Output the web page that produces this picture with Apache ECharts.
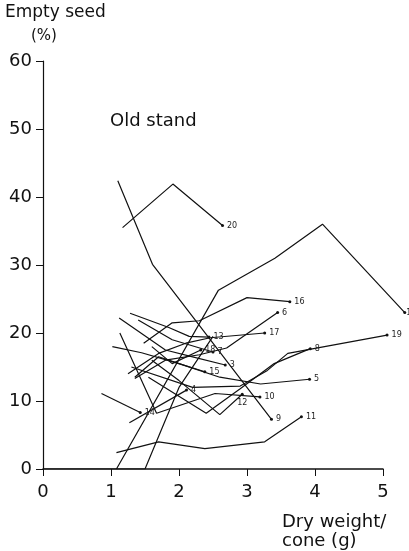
<!DOCTYPE html>
<html lang="en">
<head>
    <meta charset="UTF-8">
    <title>Old stand</title>
    <script src="https://cdn.jsdelivr.net/npm/echarts@6/dist/echarts.min.js"></script>
</head>
<body style="margin:0">
    <div id="main" style="width: 409px;height:551px;"></div>
    <script type="text/javascript">
        // axis ticks
        var xTicks = [0, 1, 2, 3, 4, 5];
        var yTicks = [0, 10, 20, 30, 40, 50, 60];

        // one stand per line: [dry weight per cone (g), empty seed (%)]
        var s1 = [[1.08, 0], [2.58, 26.3], [3.41, 31.0], [4.11, 36.0], [5.32, 23.0]];
        var s2 = [[0, 0], [1.5, 0], [2.0, 12], [2.5, 19.5]];
        var s3 = [[1.12, 22.2], [1.8, 17.5], [2.2, 16.5], [2.68, 15.3]];
        var s4 = [[1.27, 6.8], [2.11, 11.6]];
        var s5 = [[1.02, 18.0], [1.45, 17.1], [2.0, 15.5], [2.6, 13.5], [3.2, 12.5], [3.92, 13.2]];
        var s6 = [[1.35, 13.3], [1.8, 16.0], [2.3, 16.8], [2.7, 17.8], [3.45, 23.0]];
        var s7 = [[1.40, 21.9], [1.9, 19.0], [2.5, 17.2]];
        var s8 = [[1.55, 13.5], [2.4, 8.2], [2.9, 11.8], [3.4, 15.5], [3.93, 17.7]];
        var s9 = [[1.10, 42.4], [1.61, 30.1], [3.36, 7.3]];
        var s10 = [[1.13, 20.0], [1.67, 8.2], [2.53, 11.1], [3.19, 10.6]];
        var s11 = [[1.08, 2.4], [1.70, 4.0], [2.38, 3.0], [3.26, 4.0], [3.80, 7.7]];
        var s12 = [[1.6, 16.0], [2.0, 13.0], [2.6, 8.0], [2.93, 11.0]];
        var s13 = [[1.28, 22.9], [1.85, 20.8], [2.15, 19.5], [2.44, 19.4]];
        var s14 = [[0.86, 11.1], [1.43, 8.3]];
        var s15 = [[1.35, 13.5], [1.7, 16.5], [2.0, 15.5], [2.38, 14.3]];
        var s16 = [[1.48, 18.5], [1.9, 21.5], [2.3, 21.8], [3.0, 25.2], [3.63, 24.6]];
        var s17 = [[1.25, 14.0], [1.7, 17.0], [2.1, 18.5], [2.46, 19.3], [3.26, 20.0]];
        var s18 = [[1.6, 18.0], [1.9, 15.5], [2.32, 17.5]];
        var s19 = [[1.3, 15.0], [2.2, 12.0], [2.9, 12.2], [3.3, 14.5], [3.6, 17.0], [5.06, 19.7]];
        var s20 = [[1.17, 35.5], [1.91, 41.9], [2.64, 35.8]];

        var lines = [s1, s2, s3, s4, s5, s6, s7, s8, s9, s10, s11, s12, s13, s14, s15, s16, s17, s18, s19, s20];
        var labels = ['1', '', '3', '4', '5', '6', '7', '8', '9', '10', '11', '12', '13', '14', '15', '16', '17', '18', '19', '20'];

        var font = '"DejaVu Sans"';
        var myChart = echarts.init(document.getElementById('main'));

        // second, hidden grid with the same scale (68 px per g) but a wider x range,
        // so that lines running past 5 g are not cut off
        var pxPerUnit = 340 / 5;
        var wideMax = 5.38;

        var series = lines.map(function (pts, i) {
            var last = pts.length - 1;
            var data = pts.map(function (p, j) {
                if (j !== last || !labels[i]) return { value: p, symbolSize: 0 };
                return {
                    value: p,
                    symbolSize: 3,
                    label: {
                        show: true,
                        formatter: labels[i],
                        position: labels[i] === '12' ? 'bottom' : 'right',
                        distance: labels[i] === '1' ? 0 : 3,
                        fontSize: 8,
                        fontFamily: 'DejaVu Sans',
                        color: '#222'
                    }
                };
            });
            return {
                name: labels[i],
                type: 'line',
                xAxisIndex: 1,
                yAxisIndex: 1,
                data: data,
                silent: true,
                symbol: 'circle',
                showAllSymbol: true,
                itemStyle: { color: '#111' },
                lineStyle: { color: '#111', width: 1.2 },
                animation: false
            };
        });

        var option = {
            animation: false,
            grid: [
                { left: 43, right: 26, top: 61, bottom: 82 },
                { left: 43, width: pxPerUnit * wideMax, top: 61, bottom: 82 }
            ],
            xAxis: [{
                type: 'value',
                gridIndex: 0,
                min: xTicks[0], max: xTicks[xTicks.length - 1], interval: 1,
                splitLine: { show: false },
                axisLine: { lineStyle: { color: '#111', width: 1.5 } },
                axisTick: { length: 7, lineStyle: { color: '#111' } },
                axisLabel: { fontSize: 18, fontFamily: 'DejaVu Sans', color: '#111', margin: 14 }
            }, {
                type: 'value',
                gridIndex: 1,
                min: 0, max: wideMax,
                show: false
            }],
            yAxis: [{
                type: 'value',
                gridIndex: 0,
                min: yTicks[0], max: yTicks[yTicks.length - 1], interval: 10,
                splitLine: { show: false },
                axisLine: { show: true, lineStyle: { color: '#111', width: 1.2 } },
                axisTick: { show: true, length: 7, lineStyle: { color: '#111' } },
                axisLabel: { fontSize: 18, fontFamily: 'DejaVu Sans', color: '#111', margin: 11 }
            }, {
                type: 'value',
                gridIndex: 1,
                min: yTicks[0], max: yTicks[yTicks.length - 1],
                show: false
            }],
            graphic: [
                { type: 'text', left: 5, top: 4, style: { text: 'Empty seed', font: '17px ' + font, fill: '#111' } },
                { type: 'text', left: 31, top: 29, style: { text: '(%)', font: '15px ' + font, fill: '#111' } },
                { type: 'text', left: 110, top: 112, style: { text: 'Old stand', font: '18px ' + font, fill: '#111' } },
                { type: 'text', left: 282, top: 513, style: { text: 'Dry weight/', font: '18px ' + font, fill: '#111' } },
                { type: 'text', left: 282, top: 532, style: { text: 'cone (g)', font: '18px ' + font, fill: '#111' } }
            ],
            series: series
        };
        myChart.setOption(option);
    </script>
</body>
</html>
